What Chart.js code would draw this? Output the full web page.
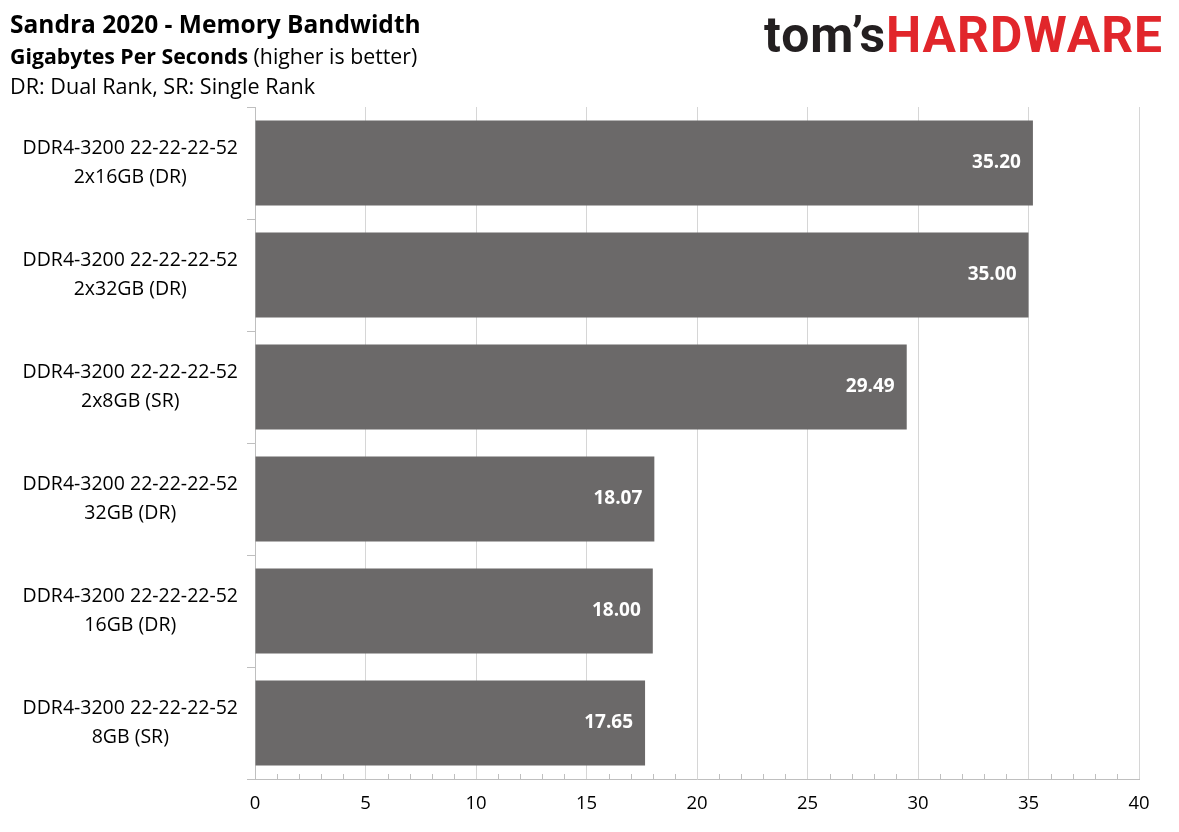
<!DOCTYPE html>
<html>
<head>
<meta charset="utf-8">
<script src="https://cdn.jsdelivr.net/npm/chart.js@4/dist/chart.umd.min.js"></script>
<style>
  html, body { margin: 0; padding: 0; background: #fff; }
  #wrap { position: relative; width: 1179px; height: 832px; font-family: "Open Sans", sans-serif; }
  #chart { position: absolute; left: 0; top: 0; }
  .t { position: absolute; left: 10px; white-space: nowrap; color: #000; line-height: 1; }
  #t1 { top: 12px; font-size: 24.5px; font-weight: 700; }
  #t2 { top: 45px; font-size: 21.3px; }
  #t3 { top: 75px; font-size: 21.6px; }
  #logo { position: absolute; left: 764px; top: 6px; font-family: Roboto, sans-serif; font-weight: 700;
          font-size: 50px; letter-spacing: 1px; white-space: nowrap; transform-origin: left top; }
  #logo .a { color: #231f20; }
  #logo .b { color: #e1262b; }
</style>
</head>
<body>
<div id="wrap">
  <canvas id="chart" width="1179" height="832"></canvas>
  <div class="t" id="t1">Sandra 2020 - Memory Bandwidth</div>
  <div class="t" id="t2"><b>Gigabytes Per Seconds</b> (higher is better)</div>
  <div class="t" id="t3">DR: Dual Rank, SR: Single Rank</div>
  <div id="logo"><span class="a">tom’s</span><span class="b">HARDWARE</span></div>
</div>
<script>
const categories = [
    ['DDR4-3200 22-22-22-52', '2x16GB (DR)'],
    ['DDR4-3200 22-22-22-52', '2x32GB (DR)'],
    ['DDR4-3200 22-22-22-52', '2x8GB (SR)'],
    ['DDR4-3200 22-22-22-52', '32GB (DR)'],
    ['DDR4-3200 22-22-22-52', '16GB (DR)'],
    ['DDR4-3200 22-22-22-52', '8GB (SR)']
];
const bandwidth = [35.20, 35.00, 29.49, 18.07, 18.00, 17.65];
const xMin = 0;
const xMax = 40;
const xStep = 5;

// fit the logo to its width in the reference
const logo = document.getElementById('logo');
logo.style.transform = 'scaleX(' + (399 / logo.getBoundingClientRect().width) + ')';

// small inside ticks on the value axis, one per unit
const minorTicks = {
    id: 'minorTicks',
    afterDraw(chart) {
        const x = chart.scales.x;
        const c = chart.ctx;
        c.save();
        c.strokeStyle = '#bfbfbf';
        c.lineWidth = 1;
        for (let v = xMin + 1; v < xMax; v++) {
            if (v % xStep === 0) continue;
            const px = Math.round(x.getPixelForValue(v)) + 0.5;
            c.beginPath();
            c.moveTo(px, x.top - 5);
            c.lineTo(px, x.top);
            c.stroke();
        }
        c.restore();
    }
};

// white value labels at the end of each bar
const barValues = {
    id: 'barValues',
    afterDraw(chart) {
        const c = chart.ctx;
        const meta = chart.getDatasetMeta(0);
        c.save();
        c.fillStyle = '#fff';
        c.font = 'bold 19px "Open Sans"';
        c.textAlign = 'right';
        c.textBaseline = 'middle';
        meta.data.forEach((bar, i) => {
            c.fillText(bandwidth[i].toFixed(2), bar.x - 12, bar.y);
        });
        c.restore();
    }
};

new Chart(document.getElementById('chart'), {
    type: 'bar',
    data: {
        labels: categories,
        datasets: [{
            data: bandwidth,
            backgroundColor: '#6b6969',
            borderWidth: 0,
            barPercentage: 0.76,
            categoryPercentage: 1
        }]
    },
    plugins: [minorTicks, barValues],
    options: {
        indexAxis: 'y',
        responsive: false,
        animation: false,
        layout: { padding: { top: 107, right: 40, left: 0, bottom: 0 } },
        plugins: {
            legend: { display: false },
            tooltip: { enabled: false }
        },
        scales: {
            x: {
                min: xMin,
                max: xMax,
                z: 1,
                afterFit(s) { s.height = 53; },
                ticks: {
                    stepSize: xStep,
                    padding: 14,
                    color: '#000',
                    font: { family: 'Open Sans', size: 18.5 }
                },
                grid: {
                    color: 'rgba(0,0,0,0.16)',
                    drawTicks: false
                },
                border: { color: '#bfbfbf', width: 1 }
            },
            y: {
                afterFit(s) { s.width = 255; },
                ticks: {
                    crossAlign: 'center',
                    padding: 9,
                    color: '#000',
                    font: { family: 'Open Sans', size: 19.5, lineHeight: 1.5 }
                },
                grid: {
                    offset: true,
                    drawOnChartArea: false,
                    drawTicks: true,
                    tickLength: 8,
                    color: '#bfbfbf'
                },
                border: { color: '#bfbfbf', width: 1 }
            }
        }
    }
});
</script>
</body>
</html>
